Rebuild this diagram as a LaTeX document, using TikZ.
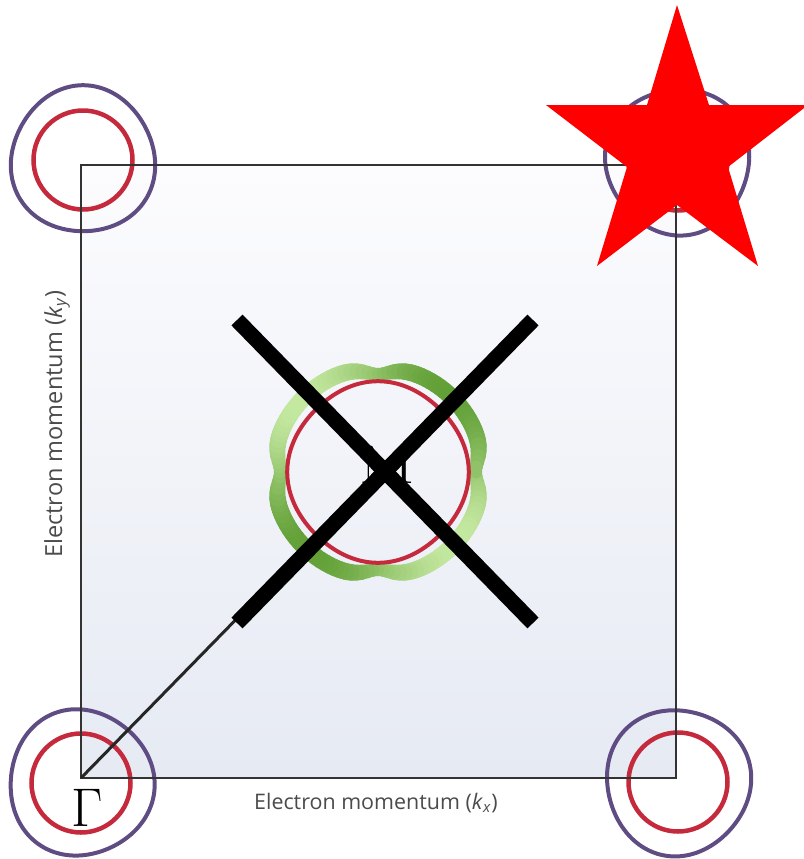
\documentclass[tikz,border=0pt]{standalone}
\usepackage{fontspec}
\newfontfamily\axisfont{Open Sans}
\definecolor{bzedge}{RGB}{51,51,51}
\definecolor{bztop}{RGB}{252,252,254}
\definecolor{bzbottom}{RGB}{230,234,243}
\definecolor{holeouter}{RGB}{94,76,130}
\definecolor{holeinner}{RGB}{196,42,60}
\definecolor{elight}{RGB}{196,232,160}
\definecolor{edark}{RGB}{98,160,55}
\definecolor{axisgray}{RGB}{75,75,75}
\tikzset{
  zonefill/.style={top color=bztop, bottom color=bzbottom, draw=none},
  zoneedge/.style={draw=bzedge, line width=0.045cm, line join=miter},
  holering/.style={draw=holeouter, line width=0.08cm},
  innerring/.style={draw=holeinner, line width=0.09cm},
  centrering/.style={draw=holeinner, line width=0.08cm},
  elecband/.style={line cap=round},
  crossbar/.style={line width=0.31cm, draw=black, line cap=butt},
  cutline/.style={line width=0.06cm, draw=black!85},
  symlabel/.style={font=\fontsize{31}{36}\selectfont, inner sep=0pt},
  axislabel/.style={font=\axisfont\fontsize{12.2}{14}\selectfont, text=axisgray, inner sep=0pt},
  starfill/.style={fill=red, draw=none},
}
\begin{document}
\begin{tikzpicture}[x=0.02cm, y=-0.02cm]
\useasboundingbox (0,0) rectangle (804,859);
% zone
\fill[zonefill] (81,165) rectangle (676,778);
% hole pockets at the corners
\foreach \cx/\cy/\ph in {83/160/0, 81/783/70, 678/782/140, 678/161/210}{
  \draw[holering] plot[domain=0:352.5, samples=48, smooth cycle, variable=\t]
    ({\cx+(72+1.8*sin(3*\t+\ph))*cos(\t)}, {\cy+(73+1.8*sin(3*\t+\ph))*sin(\t)});
  \draw[innerring] (\cx,\cy) circle (49.5);
}
\draw[zoneedge] (81,165) rectangle (676,778);
\coordinate (G) at (81,778);
% electron pocket at M
\begin{scope}[shift={(378,472)}]
\foreach \a in {0,3,...,357}{
  \pgfmathsetmacro{\p}{50-50*sin(2*\a+3)}
  \pgfmathsetmacro{\w}{(17-5/exp(min(((mod(\a+1.5+45,90)-45)/10)^2,9)))*0.5669}
  \draw[elecband, draw=edark!\p!elight, line width=\w pt]
    plot[domain=\a:\a+3.2, samples=3, variable=\t] (\t:{105-7/exp(min(((mod(\t+45,90)-45)/11)^2,9))});
}
\draw[centrering] plot[domain=0:357.5, samples=144, smooth cycle, variable=\t] (\t:{89.5+1.3*cos(4*\t)});
\end{scope}
\node[symlabel] (mlabel) at (387,465) {\scalebox{1.2}[1]{M}};
\draw[cutline] (G) -- (mlabel.center);
\node[symlabel] (gamma) at (87,808) {Γ};
% cross
\draw[crossbar] (237,320) -- (533,623);
\draw[crossbar] (533,320) -- (237,623);
% star
\fill[starfill] (677,5) -- (709,105) -- (808,105) -- (728,167) -- (758,266)
  -- (677,205) -- (597,266) -- (627,167) -- (546,105) -- (647,105) -- cycle;
% axis labels
\node[axislabel] (kxlabel) at (376,803) {Electron momentum (\textit{k}\textsubscript{\textit{x}})};
\node[axislabel, rotate=90, font=\axisfont\fontsize{13.4}{15}\selectfont] (kylabel) at (57,424) {Electron momentum (\textit{k}\textsubscript{\textit{y}})};
\end{tikzpicture}
\end{document}
